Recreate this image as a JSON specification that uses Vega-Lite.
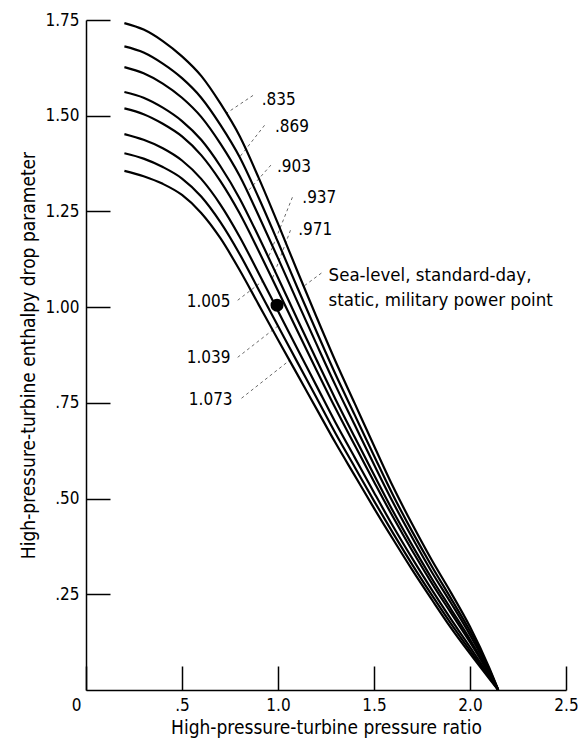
{
  "$schema": "https://vega.github.io/schema/vega-lite/v6.json",
  "width": 480,
  "height": 670,
  "autosize": "none",
  "padding": {"left": 86, "top": 20, "right": 12, "bottom": 55},
  "background": "white",
  "config": {
    "view": {"stroke": null},
    "font": "DejaVu Sans Condensed",
    "axis": {
      "grid": false,
      "domainColor": "black",
      "domainWidth": 1.5,
      "tickColor": "black",
      "tickWidth": 1.5,
      "tickSize": -24,
      "labelPadding": 31,
      "labelFont": "DejaVu Sans Condensed",
      "labelFontSize": 17,
      "labelColor": "black",
      "labelFlush": false,
      "labelOverlap": false,
      "labelBound": false,
      "titleFont": "DejaVu Sans Condensed",
      "titleFontSize": 19,
      "titleFontWeight": "normal",
      "titleColor": "black"
    }
  },
  "datasets": {
    "curves": [
      {"c":".835","x":0.2,"y":1.742},{"c":".835","x":0.3,"y":1.725},{"c":".835","x":0.4,"y":1.695},{"c":".835","x":0.5,"y":1.655},{"c":".835","x":0.6,"y":1.604},{"c":".835","x":0.7,"y":1.532},{"c":".835","x":0.8,"y":1.447},{"c":".835","x":0.9,"y":1.337},{"c":".835","x":1.0,"y":1.218},{"c":".835","x":1.1,"y":1.095},{"c":".835","x":1.2,"y":0.975},{"c":".835","x":1.3,"y":0.858},{"c":".835","x":1.4,"y":0.748},{"c":".835","x":1.5,"y":0.638},{"c":".835","x":1.6,"y":0.53},{"c":".835","x":1.7,"y":0.432},{"c":".835","x":1.8,"y":0.34},{"c":".835","x":1.9,"y":0.255},{"c":".835","x":2.0,"y":0.165},{"c":".835","x":2.1,"y":0.058},{"c":".835","x":2.147,"y":0},
      {"c":".869","x":0.2,"y":1.681},{"c":".869","x":0.3,"y":1.665},{"c":".869","x":0.4,"y":1.636},{"c":".869","x":0.5,"y":1.598},{"c":".869","x":0.6,"y":1.547},{"c":".869","x":0.7,"y":1.476},{"c":".869","x":0.8,"y":1.392},{"c":".869","x":0.9,"y":1.285},{"c":".869","x":1.0,"y":1.17},{"c":".869","x":1.1,"y":1.052},{"c":".869","x":1.2,"y":0.937},{"c":".869","x":1.3,"y":0.824},{"c":".869","x":1.4,"y":0.718},{"c":".869","x":1.5,"y":0.612},{"c":".869","x":1.6,"y":0.508},{"c":".869","x":1.7,"y":0.413},{"c":".869","x":1.8,"y":0.324},{"c":".869","x":1.9,"y":0.24},{"c":".869","x":2.0,"y":0.154},{"c":".869","x":2.1,"y":0.054},{"c":".869","x":2.147,"y":0},
      {"c":".903","x":0.2,"y":1.627},{"c":".903","x":0.3,"y":1.611},{"c":".903","x":0.4,"y":1.584},{"c":".903","x":0.5,"y":1.547},{"c":".903","x":0.6,"y":1.497},{"c":".903","x":0.7,"y":1.427},{"c":".903","x":0.8,"y":1.343},{"c":".903","x":0.9,"y":1.238},{"c":".903","x":1.0,"y":1.128},{"c":".903","x":1.1,"y":1.015},{"c":".903","x":1.2,"y":0.904},{"c":".903","x":1.3,"y":0.795},{"c":".903","x":1.4,"y":0.692},{"c":".903","x":1.5,"y":0.589},{"c":".903","x":1.6,"y":0.489},{"c":".903","x":1.7,"y":0.397},{"c":".903","x":1.8,"y":0.309},{"c":".903","x":1.9,"y":0.228},{"c":".903","x":2.0,"y":0.144},{"c":".903","x":2.1,"y":0.05},{"c":".903","x":2.147,"y":0},
      {"c":".937","x":0.2,"y":1.562},{"c":".937","x":0.3,"y":1.547},{"c":".937","x":0.4,"y":1.521},{"c":".937","x":0.5,"y":1.486},{"c":".937","x":0.6,"y":1.437},{"c":".937","x":0.7,"y":1.368},{"c":".937","x":0.8,"y":1.284},{"c":".937","x":0.9,"y":1.183},{"c":".937","x":1.0,"y":1.077},{"c":".937","x":1.1,"y":0.969},{"c":".937","x":1.2,"y":0.863},{"c":".937","x":1.3,"y":0.759},{"c":".937","x":1.4,"y":0.66},{"c":".937","x":1.5,"y":0.562},{"c":".937","x":1.6,"y":0.466},{"c":".937","x":1.7,"y":0.377},{"c":".937","x":1.8,"y":0.292},{"c":".937","x":1.9,"y":0.212},{"c":".937","x":2.0,"y":0.132},{"c":".937","x":2.1,"y":0.045},{"c":".937","x":2.147,"y":0},
      {"c":".971","x":0.2,"y":1.519},{"c":".971","x":0.3,"y":1.504},{"c":".971","x":0.4,"y":1.479},{"c":".971","x":0.5,"y":1.446},{"c":".971","x":0.6,"y":1.397},{"c":".971","x":0.7,"y":1.329},{"c":".971","x":0.8,"y":1.245},{"c":".971","x":0.9,"y":1.146},{"c":".971","x":1.0,"y":1.043},{"c":".971","x":1.1,"y":0.939},{"c":".971","x":1.2,"y":0.836},{"c":".971","x":1.3,"y":0.735},{"c":".971","x":1.4,"y":0.639},{"c":".971","x":1.5,"y":0.544},{"c":".971","x":1.6,"y":0.451},{"c":".971","x":1.7,"y":0.363},{"c":".971","x":1.8,"y":0.28},{"c":".971","x":1.9,"y":0.202},{"c":".971","x":2.0,"y":0.125},{"c":".971","x":2.1,"y":0.042},{"c":".971","x":2.147,"y":0},
      {"c":"1.005","x":0.2,"y":1.452},{"c":"1.005","x":0.3,"y":1.437},{"c":"1.005","x":0.4,"y":1.415},{"c":"1.005","x":0.5,"y":1.383},{"c":"1.005","x":0.6,"y":1.335},{"c":"1.005","x":0.7,"y":1.268},{"c":"1.005","x":0.8,"y":1.184},{"c":"1.005","x":0.9,"y":1.088},{"c":"1.005","x":1.0,"y":0.99},{"c":"1.005","x":1.1,"y":0.892},{"c":"1.005","x":1.2,"y":0.795},{"c":"1.005","x":1.3,"y":0.698},{"c":"1.005","x":1.4,"y":0.607},{"c":"1.005","x":1.5,"y":0.516},{"c":"1.005","x":1.6,"y":0.427},{"c":"1.005","x":1.7,"y":0.343},{"c":"1.005","x":1.8,"y":0.263},{"c":"1.005","x":1.9,"y":0.186},{"c":"1.005","x":2.0,"y":0.112},{"c":"1.005","x":2.1,"y":0.037},{"c":"1.005","x":2.147,"y":0},
      {"c":"1.039","x":0.2,"y":1.402},{"c":"1.039","x":0.3,"y":1.388},{"c":"1.039","x":0.4,"y":1.366},{"c":"1.039","x":0.5,"y":1.336},{"c":"1.039","x":0.6,"y":1.289},{"c":"1.039","x":0.7,"y":1.222},{"c":"1.039","x":0.8,"y":1.139},{"c":"1.039","x":0.9,"y":1.045},{"c":"1.039","x":1.0,"y":0.951},{"c":"1.039","x":1.1,"y":0.857},{"c":"1.039","x":1.2,"y":0.764},{"c":"1.039","x":1.3,"y":0.67},{"c":"1.039","x":1.4,"y":0.582},{"c":"1.039","x":1.5,"y":0.494},{"c":"1.039","x":1.6,"y":0.409},{"c":"1.039","x":1.7,"y":0.327},{"c":"1.039","x":1.8,"y":0.249},{"c":"1.039","x":1.9,"y":0.174},{"c":"1.039","x":2.0,"y":0.103},{"c":"1.039","x":2.1,"y":0.033},{"c":"1.039","x":2.147,"y":0},
      {"c":"1.073","x":0.2,"y":1.356},{"c":"1.073","x":0.3,"y":1.342},{"c":"1.073","x":0.4,"y":1.322},{"c":"1.073","x":0.5,"y":1.293},{"c":"1.073","x":0.6,"y":1.246},{"c":"1.073","x":0.7,"y":1.18},{"c":"1.073","x":0.8,"y":1.097},{"c":"1.073","x":0.9,"y":1.006},{"c":"1.073","x":1.0,"y":0.915},{"c":"1.073","x":1.1,"y":0.825},{"c":"1.073","x":1.2,"y":0.735},{"c":"1.073","x":1.3,"y":0.645},{"c":"1.073","x":1.4,"y":0.56},{"c":"1.073","x":1.5,"y":0.475},{"c":"1.073","x":1.6,"y":0.393},{"c":"1.073","x":1.7,"y":0.313},{"c":"1.073","x":1.8,"y":0.237},{"c":"1.073","x":1.9,"y":0.163},{"c":"1.073","x":2.0,"y":0.095},{"c":"1.073","x":2.1,"y":0.03},{"c":"1.073","x":2.147,"y":0}
    ],
    "labelsNum": [
      {"t":".835","x":0.905,"y":1.54},
      {"t":".869","x":0.974,"y":1.47},
      {"t":".903","x":0.984,"y":1.366},
      {"t":".937","x":1.116,"y":1.285},
      {"t":".971","x":1.095,"y":1.201}
    ],
    "labelsNote": [
      {"t":"Sea-level, standard-day,","x":1.253,"y":1.084},
      {"t":"static, military power point","x":1.253,"y":1.018}
    ],
    "labelsRight": [
      {"t":"1.005","x":0.763,"y":1.013},
      {"t":"1.039","x":0.763,"y":0.867},
      {"t":"1.073","x":0.774,"y":0.757}
    ],
    "leaders": [
      {"x":0.87,"y":1.553,"x2":0.73,"y2":1.506},
      {"x":0.93,"y":1.475,"x2":0.8,"y2":1.392},
      {"x":0.963,"y":1.371,"x2":0.84,"y2":1.301},
      {"x":1.075,"y":1.287,"x2":0.95,"y2":1.13},
      {"x":1.065,"y":1.201,"x2":0.97,"y2":1.074},
      {"x":0.79,"y":1.018,"x2":0.92,"y2":1.068},
      {"x":0.79,"y":0.869,"x2":1.0,"y2":0.951},
      {"x":0.81,"y":0.762,"x2":1.06,"y2":0.861},
      {"x":1.226,"y":1.089,"x2":1.135,"y2":1.055}
    ],
    "point": [{"x":0.995,"y":1.005}]
  },
  "layer": [
    {
      "data": {"name": "leaders"},
      "mark": {"type": "rule", "color": "#444444", "strokeWidth": 0.8, "strokeDash": [3, 3]},
      "encoding": {
        "x": {"field": "x", "type": "quantitative", "scale": {"domain": [0, 2.5], "nice": false, "zero": false},
          "axis": {
            "title": "High-pressure-turbine pressure ratio",
            "values": [0, 0.5, 1, 1.5, 2, 2.5],
            "labelExpr": "datum.value == 0 ? '0' : datum.value < 1 ? '.5' : format(datum.value, '.1f')",
            "labelOffset": {"condition": {"test": "datum.value == 0", "value": -10}, "value": 0},
            "labelPadding": 31,
            "titlePadding": 5
          }},
        "y": {"field": "y", "type": "quantitative", "scale": {"domain": [0, 1.75], "nice": false, "zero": false},
          "axis": {
            "title": "High-pressure-turbine enthalpy drop parameter",
            "values": [0.25, 0.5, 0.75, 1, 1.25, 1.5, 1.75],
            "labelExpr": "datum.value >= 1 ? format(datum.value, '.2f') : replace(format(datum.value, '.2f'), '0.', '.')",
            "labelPadding": 31,
            "titlePadding": 6
          }},
        "x2": {"field": "x2"},
        "y2": {"field": "y2"}
      }
    },
    {
      "data": {"name": "curves"},
      "mark": {"type": "line", "color": "black", "strokeWidth": 2.2, "interpolate": "monotone"},
      "encoding": {
        "x": {"field": "x", "type": "quantitative"},
        "y": {"field": "y", "type": "quantitative"},
        "detail": {"field": "c", "type": "nominal"}
      }
    },
    {
      "data": {"name": "point"},
      "mark": {"type": "point", "filled": true, "color": "black", "opacity": 1, "size": 170, "shape": "circle"},
      "encoding": {
        "x": {"field": "x", "type": "quantitative"},
        "y": {"field": "y", "type": "quantitative"}
      }
    },
    {
      "data": {"name": "labelsNum"},
      "mark": {"type": "text", "align": "left", "baseline": "middle", "font": "DejaVu Sans Condensed", "fontSize": 17, "color": "black", "dx": 2},
      "encoding": {
        "x": {"field": "x", "type": "quantitative"},
        "y": {"field": "y", "type": "quantitative"},
        "text": {"field": "t", "type": "nominal"}
      }
    },
    {
      "data": {"name": "labelsNote"},
      "mark": {"type": "text", "align": "left", "baseline": "middle", "font": "DejaVu Sans Condensed", "fontSize": 18.5, "color": "black", "dx": 2},
      "encoding": {
        "x": {"field": "x", "type": "quantitative"},
        "y": {"field": "y", "type": "quantitative"},
        "text": {"field": "t", "type": "nominal"}
      }
    },
    {
      "data": {"name": "labelsRight"},
      "mark": {"type": "text", "align": "right", "baseline": "middle", "font": "DejaVu Sans Condensed", "fontSize": 17, "color": "black", "dx": -2},
      "encoding": {
        "x": {"field": "x", "type": "quantitative"},
        "y": {"field": "y", "type": "quantitative"},
        "text": {"field": "t", "type": "nominal"}
      }
    }
  ]
}
